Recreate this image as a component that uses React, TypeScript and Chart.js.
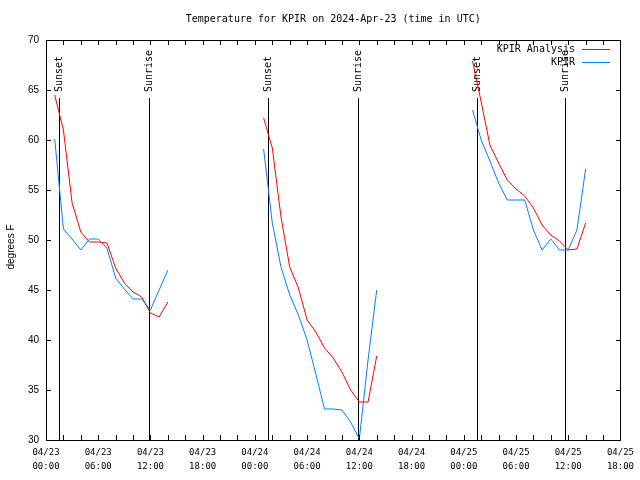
import React, { useEffect, useRef } from 'react';
import { Chart, registerables } from 'chart.js';

Chart.register(...registerables);

const TITLE = 'Temperature for KPIR on 2024-Apr-23 (time in UTC)';
const Y_TITLE = 'degrees F';
const SERIES_ANALYSIS = 'KPIR Analysis';
const SERIES_OBS = 'KPIR';

// x axis: hours since 2024-04-23 00:00 UTC
const xTickDates = ['04/23', '04/23', '04/23', '04/23', '04/24', '04/24', '04/24', '04/24', '04/25', '04/25', '04/25', '04/25'];
const xTickTimes = ['00:00', '06:00', '12:00', '18:00', '00:00', '06:00', '12:00', '18:00', '00:00', '06:00', '12:00', '18:00'];
const yTicks = [30, 35, 40, 45, 50, 55, 60, 65, 70];

const night1Hours = [1, 2, 3, 4, 5, 6, 7, 8, 9, 10, 11, 12, 13, 14];
const night2Hours = [25, 26, 27, 28, 29, 30, 31, 32, 33, 34, 35, 36, 37, 38];
const night3Hours = [49, 50, 51, 52, 53, 54, 55, 56, 57, 58, 59, 60, 61, 62];

const analysis1 = [64.5, 61.0, 53.7, 50.8, 49.8, 49.8, 49.7, 47.2, 45.7, 44.8, 44.3, 42.7, 42.3, 43.8];
const analysis2 = [62.2, 59.2, 52.3, 47.3, 45.2, 42.0, 40.8, 39.2, 38.2, 36.8, 35.0, 33.8, 33.8, 38.4];
const analysis3 = [67.9, 63.8, 59.5, 57.7, 56.0, 55.1, 54.4, 53.2, 51.5, 50.5, 49.9, 49.0, 49.1, 51.7];

const obs1 = [60.1, 51.1, 50.1, 49.0, 50.1, 50.1, 49.2, 46.2, 45.1, 44.1, 44.1, 43.0, 45.0, 47.0];
const obs2 = [59.1, 51.7, 47.3, 44.5, 42.5, 40.0, 36.6, 33.1, 33.1, 33.0, 31.8, 30.1, 38.0, 45.0];
const obs3 = [63.0, 60.0, 57.9, 55.7, 54.0, 54.0, 54.0, 51.0, 49.0, 50.1, 49.0, 49.0, 51.0, 57.1];

const sunsetHours = [1.5, 25.5, 49.5];
const sunriseHours = [11.85, 35.8, 59.6];
const markerTopValue = 64.2;

const RED = 'rgb(255,0,0)';
const BLUE = 'rgb(0,128,255)';
const MONO = '"DejaVu Sans Mono", monospace';
const SANS = '"Liberation Sans", Arial, sans-serif';

function segment(hours: number[], temps: number[]) {
  return hours.map((h, i) => ({ x: h, y: temps[i] }));
}

function joinSegments(segs: { x: number; y: number | null }[][]) {
  const out: { x: number; y: number | null }[] = [];
  segs.forEach((s, i) => {
    if (i > 0) out.push({ x: (out[out.length - 1].x + s[0].x) / 2, y: null });
    out.push(...s);
  });
  return out;
}

const framePlugin = {
  id: 'gnuframe',
  beforeDatasetsDraw(chart: any) {
    const { ctx, chartArea: a, scales } = chart;
    const x = scales.x;
    const y = scales.y;
    ctx.save();
    ctx.strokeStyle = '#000';
    ctx.fillStyle = '#000';
    ctx.lineWidth = 1;
    const marks: [number, string][] = [
      ...sunsetHours.map((h) => [h, 'Sunset'] as [number, string]),
      ...sunriseHours.map((h) => [h, 'Sunrise'] as [number, string]),
    ];
    for (const [h, label] of marks) {
      const px = Math.round(x.getPixelForValue(h)) + 0.5;
      const top = Math.round(y.getPixelForValue(markerTopValue));
      ctx.beginPath();
      ctx.moveTo(px, a.bottom);
      ctx.lineTo(px, top);
      ctx.stroke();
      ctx.save();
      ctx.translate(px, top - 6);
      ctx.rotate(-Math.PI / 2);
      ctx.font = '10px ' + MONO;
      ctx.textAlign = 'left';
      ctx.textBaseline = 'middle';
      ctx.fillText(label, 0, 0);
      ctx.restore();
    }
    ctx.restore();
  },
  afterDraw(chart: any) {
    const { ctx, chartArea: a, scales } = chart;
    const x = scales.x;
    const y = scales.y;
    ctx.save();
    ctx.strokeStyle = '#000';
    ctx.fillStyle = '#000';
    ctx.lineWidth = 1;
    const L = Math.round(a.left);
    const R = Math.round(a.right);
    const T = Math.round(a.top);
    const B = Math.round(a.bottom);
    ctx.strokeRect(L + 0.5, T + 0.5, R - L, B - T);
    ctx.beginPath();
    for (const v of yTicks) {
      const py = Math.round(y.getPixelForValue(v)) + 0.5;
      ctx.moveTo(L, py);
      ctx.lineTo(L + 5, py);
      ctx.moveTo(R + 1, py);
      ctx.lineTo(R - 4, py);
    }
    for (let h = 0; h <= 66; h += 2) {
      const px = Math.round(x.getPixelForValue(h)) + 0.5;
      ctx.moveTo(px, B);
      ctx.lineTo(px, B - 5);
      ctx.moveTo(px, T);
      ctx.lineTo(px, T + 5);
    }
    ctx.stroke();

    // title
    ctx.font = '10px ' + MONO;
    ctx.textAlign = 'center';
    ctx.textBaseline = 'middle';
    ctx.fillText(TITLE, (a.left + a.right) / 2, 19);

    // y axis title
    ctx.save();
    ctx.translate(11, 247);
    ctx.rotate(-Math.PI / 2);
    ctx.font = '10px ' + SANS;
    ctx.textAlign = 'center';
    ctx.textBaseline = 'middle';
    ctx.fillText(Y_TITLE, 0, 0);
    ctx.restore();

    // legend
    const items: [string, string, number][] = [
      [SERIES_ANALYSIS, RED, 49],
      [SERIES_OBS, BLUE, 62],
    ];
    ctx.font = '10px ' + MONO;
    ctx.textAlign = 'right';
    ctx.textBaseline = 'middle';
    for (const [label, color, ly] of items) {
      ctx.fillStyle = '#000';
      ctx.fillText(label, 575, ly);
      ctx.strokeStyle = color;
      ctx.beginPath();
      ctx.moveTo(582, ly + 0.5);
      ctx.lineTo(610, ly + 0.5);
      ctx.stroke();
    }
    ctx.restore();
  },
};

export default function App() {
  const canvasRef = useRef<HTMLCanvasElement | null>(null);

  useEffect(() => {
    document.body.style.margin = '0';
    const canvas = canvasRef.current;
    if (!canvas) return;
    const chart = new Chart(canvas, {
      type: 'line',
      data: {
        datasets: [
          {
            label: SERIES_ANALYSIS,
            data: joinSegments([
              segment(night1Hours, analysis1),
              segment(night2Hours, analysis2),
              segment(night3Hours, analysis3),
            ]),
            borderColor: RED,
            borderWidth: 1,
            pointRadius: 0,
            tension: 0,
            spanGaps: false,
            order: 1,
          },
          {
            label: SERIES_OBS,
            data: joinSegments([
              segment(night1Hours, obs1),
              segment(night2Hours, obs2),
              segment(night3Hours, obs3),
            ]),
            borderColor: BLUE,
            borderWidth: 1,
            pointRadius: 0,
            tension: 0,
            spanGaps: false,
            order: 0,
          },
        ],
      },
      options: {
        responsive: false,
        animation: false,
        devicePixelRatio: 1,
        layout: { padding: { top: 40, right: 18, left: 0, bottom: 0 } },
        plugins: {
          legend: { display: false },
          title: { display: false },
          tooltip: { enabled: false },
        },
        scales: {
          x: {
            type: 'linear',
            min: 0,
            max: 66,
            grid: { display: false, drawTicks: false },
            border: { display: false },
            afterFit: (s: any) => {
              s.height = 40;
            },
            ticks: {
              stepSize: 6,
              autoSkip: false,
              maxRotation: 0,
              padding: 6,
              color: '#000',
              font: { family: MONO, size: 9, lineHeight: '14px' } as any,
              callback: (v: any) => {
                const i = Math.round(Number(v) / 6);
                return [xTickDates[i], xTickTimes[i]];
              },
            },
          },
          y: {
            type: 'linear',
            min: 30,
            max: 70,
            grid: { display: false, drawTicks: false },
            border: { display: false },
            afterFit: (s: any) => {
              s.width = 46;
            },
            ticks: {
              stepSize: 5,
              padding: 7,
              color: '#000',
              font: { family: SANS, size: 10 },
            },
          },
        },
      },
      plugins: [framePlugin],
    } as any);
    return () => chart.destroy();
  }, []);

  return (
    <div style={{ width: 640, height: 480 }}>
      <canvas ref={canvasRef} width={640} height={480} style={{ display: 'block' }} />
    </div>
  );
}
